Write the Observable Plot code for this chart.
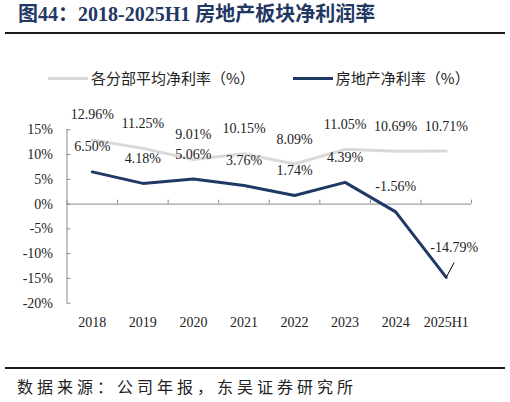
<!DOCTYPE html>
<html>
<head>
<meta charset="utf-8">
<script src="https://cdn.jsdelivr.net/npm/d3@7"></script>
<script src="https://cdn.jsdelivr.net/npm/@observablehq/plot@0.6"></script>
<style>
  html, body { margin: 0; padding: 0; background: #fff; }
  #wrap { position: relative; width: 510px; height: 402px; overflow: hidden; background: #fff; }
  .title { position: absolute; left: 18px; top: 4px; font: bold 20px/20px "Liberation Serif", "Noto Sans CJK SC", serif; color: #1f3864; white-space: nowrap; }
  .rule { position: absolute; left: 5px; width: 500px; height: 2px; background: #1a1a1a; }
  .legend { position: absolute; top: 70px; left: 48px; height: 16px; font: 15px/16px "Noto Sans CJK SC", sans-serif; color: #222; display: flex; align-items: center; white-space: nowrap; }
  .sw { display: inline-block; width: 40px; height: 3px; margin-right: 3px; }
  .caption { position: absolute; left: 17px; top: 378px; font: 16px/16px "Noto Sans CJK SC", sans-serif; letter-spacing: 4px; color: #222; white-space: nowrap; }
  #chart { position: absolute; left: 0; top: 100px; }
</style>
</head>
<body>
<div id="wrap">
  <div class="title">图44：2018-2025H1 房地产板块净利润率</div>
  <div class="rule" style="top:32px"></div>
  <div class="legend" id="legend"></div>
  <div id="chart"></div>
  <div class="rule" style="top:367px"></div>
  <div class="caption">数据来源：公司年报，东吴证券研究所</div>
</div>
<script>
// Period labels and net margins (%)
const years = ["2018", "2019", "2020", "2021", "2022", "2023", "2024", "2025H1"];
const avgMargin = [12.96, 11.25, 9.01, 10.15, 8.09, 11.05, 10.69, 10.71];
const reMargin = [6.50, 4.18, 5.06, 3.76, 1.74, 4.39, -1.56, -14.79];
const yTicks = [15, 10, 5, 0, -5, -10, -15, -20];

const seriesNames = ["各分部平均净利率（%）", "房地产净利率（%）"];
const seriesColors = ["#d9d9d9", "#1f3864"];

// Legend
const legend = document.getElementById("legend");
seriesNames.forEach((name, i) => {
  const sw = document.createElement("span");
  sw.className = "sw";
  sw.style.background = seriesColors[i];
  const label = document.createElement("span");
  label.textContent = name;
  if (i > 0) sw.style.marginLeft = "38px";
  legend.appendChild(sw);
  legend.appendChild(label);
});

// Each period sits in the middle of a unit-wide slot on a linear x scale
const rows = years.map((year, i) => ({year, pos: i + 0.5, avg: avgMargin[i], re: reMargin[i]}));

const W = 510, H = 240;
const mL = 66.5, mR = 39, mT = 29.3, mB = 37.3;
const yDomain = [d3.min(yTicks), d3.max(yTicks)];
const pxPerX = (W - mL - mR) / years.length;
const pxPerY = (H - mT - mB) / (yDomain[1] - yDomain[0]);
const axisColor = "#8c8c8c";
const textColor = "#222";
const pct = v => v.toFixed(2) + "%";
const last = rows.slice(-1);

const chart = Plot.plot({
  width: W,
  height: H,
  marginLeft: mL,
  marginRight: mR,
  marginTop: mT,
  marginBottom: mB,
  x: {type: "linear", domain: [0, years.length]},
  y: {domain: yDomain},
  style: {fontFamily: "'Liberation Serif', serif", fontSize: "14px", color: textColor, background: "transparent", overflow: "visible"},
  marks: [
    Plot.axisY(yTicks, {tickSize: 0, tickPadding: 14, tickFormat: d => d + "%", fill: textColor, label: null}),
    Plot.axisX(rows.map(d => d.pos), {tickSize: 0, tickPadding: 14, tickFormat: p => years[Math.round(p - 0.5)], fill: textColor, label: null}),
    Plot.ruleX([0], {stroke: axisColor}),
    Plot.ruleY([0], {stroke: axisColor}),
    // inward tick marks
    Plot.ruleX(d3.range(years.length + 1), {y1: 0, y2: 4 / pxPerY, stroke: axisColor}),
    Plot.ruleY(yTicks, {x1: 0, x2: 4 / pxPerX, stroke: axisColor}),
    // series
    Plot.line(rows, {x: "pos", y: "avg", stroke: seriesColors[0], strokeWidth: 3}),
    Plot.line(rows, {x: "pos", y: "re", stroke: seriesColors[1], strokeWidth: 3}),
    // value labels
    Plot.text(rows, {x: "pos", y: "avg", text: d => pct(d.avg), dy: -25, fill: textColor}),
    Plot.text(rows.slice(0, -1), {x: "pos", y: "re", text: d => pct(d.re), dy: -25, fill: textColor}),
    Plot.text(last, {x: "pos", y: "re", text: d => pct(d.re), dx: 8, dy: -30, fill: textColor}),
    Plot.link(last, {x1: "pos", y1: "re", x2: d => d.pos + 8 / pxPerX, y2: d => d.re + 15 / pxPerY, stroke: "#000", strokeWidth: 1})
  ]
});
document.getElementById("chart").appendChild(chart);
</script>
</body>
</html>
